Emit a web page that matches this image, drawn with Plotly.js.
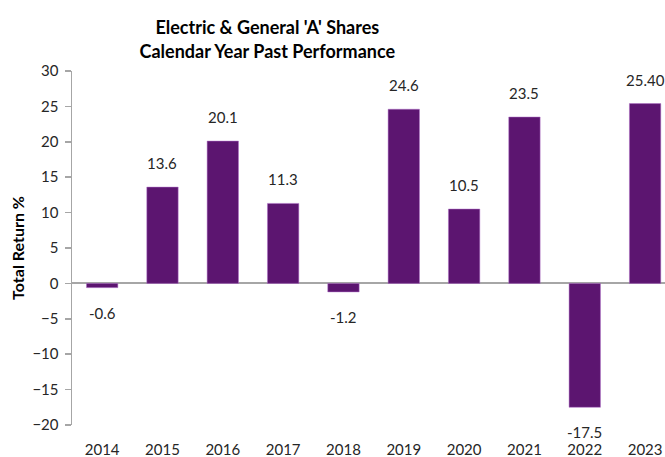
<!DOCTYPE html>
<html>
<head>
<meta charset="utf-8">
<script src="https://cdn.plot.ly/plotly-3.0.1.min.js"></script>
<style>html,body{margin:0;padding:0;background:#fff;}#chart{width:665px;height:457px;}</style>
</head>
<body>
<div id="chart"></div>
<script>
const years = ['2014','2015','2016','2017','2018','2019','2020','2021','2022','2023'];
const returns = [-0.6, 13.6, 20.1, 11.3, -1.2, 24.6, 10.5, 23.5, -17.5, 25.4];
const valueLabels = ['-0.6','13.6','20.1','11.3','-1.2','24.6','10.5','23.5','-17.5','25.40'];
const yTicks = [-20,-15,-10,-5,0,5,10,15,20,25,30];

const FONT = 'Lato, sans-serif';

const annotations = years.map(function (yr, i) {
  return {
    x: i, y: returns[i], xref: 'x', yref: 'y',
    text: valueLabels[i], showarrow: false,
    xanchor: 'center', yanchor: 'middle',
    yshift: returns[i] >= 0 ? 24 : -25,
    font: {family: FONT, size: 15, color: '#262626'}
  };
});

const trace = {
  type: 'bar', x: years, y: returns,
  marker: {color: '#5C1570', line: {color: '#b070c8', width: 0.5}},
  hoverinfo: 'none'
};

const layout = {
  width: 665, height: 457,
  margin: {l: 72, r: 0, t: 71, b: 32, pad: 0},
  paper_bgcolor: '#fff', plot_bgcolor: '#fff',
  showlegend: false,
  bargap: 0.48,
  title: {
    text: "Electric & General 'A' Shares<br>Calendar Year Past Performance",
    font: {family: FONT, size: 18, color: '#000', weight: 'bold'},
    x: 0.402, xref: 'container', xanchor: 'center',
    y: 0.925, yref: 'container', yanchor: 'middle'
  },
  xaxis: {
    type: 'category', range: [-0.5, 9.33],
    showline: false, showgrid: false, zeroline: false,
    ticks: 'outside', ticklen: 11, tickcolor: 'rgba(0,0,0,0)',
    tickfont: {family: FONT, size: 15, color: '#262626'}
  },
  yaxis: {
    range: [-20, 30], tickvals: yTicks,
    showline: true, linecolor: '#a6a6a6', linewidth: 1.5,
    ticks: 'outside', ticklen: 6, tickcolor: '#a6a6a6', tickwidth: 1.5,
    ticklabelstandoff: 3,
    showgrid: false,
    zeroline: true, zerolinecolor: '#a6a6a6', zerolinewidth: 2,
    tickfont: {family: FONT, size: 15, color: '#262626'},
    title: {text: 'Total Return %', font: {family: FONT, size: 16, color: '#000', weight: 'bold'}, standoff: 4}
  },
  annotations: annotations
};

Plotly.newPlot('chart', [trace], layout, {staticPlot: true, displayModeBar: false});
</script>
</body>
</html>
